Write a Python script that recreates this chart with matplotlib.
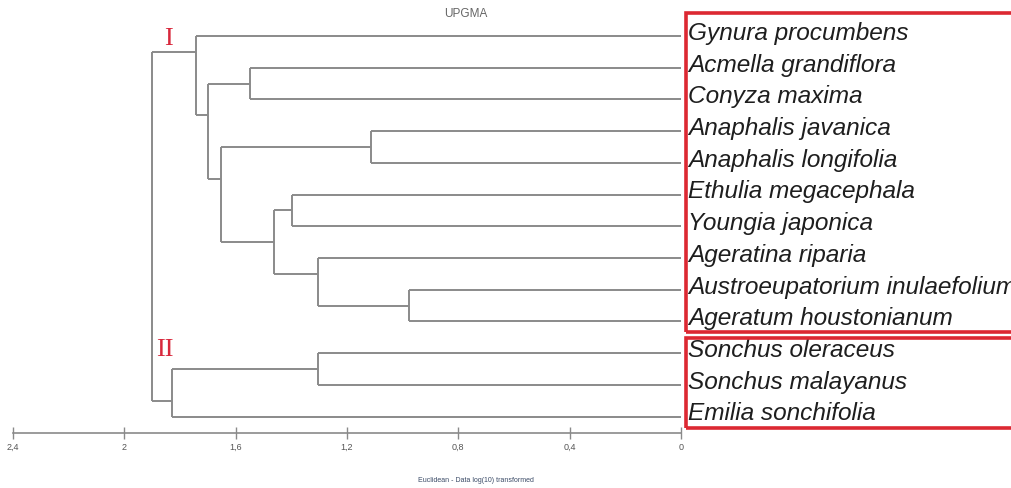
import matplotlib
matplotlib.use("Agg")
import matplotlib.pyplot as plt
from matplotlib.patches import Rectangle

# Leaves in display order, top to bottom
species = [
    "Gynura procumbens", "Acmella grandiflora", "Conyza maxima",
    "Anaphalis javanica", "Anaphalis longifolia", "Ethulia megacephala",
    "Youngia japonica", "Ageratina riparia", "Austroeupatorium inulaefolium",
    "Ageratum houstonianum", "Sonchus oleraceus", "Sonchus malayanus",
    "Emilia sonchifolia",
]

# UPGMA merges: node 13 + k joins merge_a[k] and merge_b[k] at merge_h[k]
merge_a = [8, 3, 7, 10, 5, 17, 1, 14, 19, 0, 16, 22]
merge_b = [9, 4, 13, 11, 6, 15, 2, 18, 20, 21, 12, 23]
merge_h = [0.977, 1.115, 1.303, 1.303, 1.397, 1.462, 1.549, 1.654, 1.698, 1.743, 1.829, 1.900]

tick_vals = [2.4, 2.0, 1.6, 1.2, 0.8, 0.4, 0.0]
tick_labels = ["2,4", "2", "1,6", "1,2", "0,8", "0,4", "0"]

groups = ["I", "II"]
group_first_leaf = [0, 10]

W, H = 1012, 488
fig = plt.figure(figsize=(W / 100, H / 100), dpi=100)

# pixel layout of the tree area
x0_px, x1_px = 13, 681          # d = 2.4 ... d = 0
leaf0_px, step_px = 36, 31.72    # first leaf line and spacing
axis_px, top_px = 433, 20
ax = fig.add_axes([x0_px / W, 1 - axis_px / H, (x1_px - x0_px) / W, (axis_px - top_px) / H])
ax.set_xlim(2.4, 0)
ax.set_ylim((axis_px - leaf0_px) / step_px, (top_px - leaf0_px) / step_px)

line_kw = dict(color="#8a8a8a", lw=1.4, solid_capstyle="butt")

leaves = {i: [i] for i in range(len(species))}
ypos = {i: float(i) for i in range(len(species))}
height = {i: 0.0 for i in range(len(species))}
for k, (a, b, h) in enumerate(zip(merge_a, merge_b, merge_h)):
    n = len(species) + k
    ax.plot([h, h], [ypos[a], ypos[b]], **line_kw)
    ax.plot([height[a], h], [ypos[a], ypos[a]], **line_kw)
    ax.plot([height[b], h], [ypos[b], ypos[b]], **line_kw)
    leaves[n] = leaves[a] + leaves[b]
    ypos[n] = (leaves[a][-1] + leaves[b][0]) / 2
    height[n] = h

for i, name in enumerate(species):
    ax.text(-0.025, i + 0.12, name, fontsize=17.6, style="italic",
            family="Liberation Sans", color="#1e1e1e", va="baseline",
            ha="left", clip_on=False)

# roman numerals: (x in distance units, y offset in leaf units)
numeral_pos = [(1.843, 0.11), (1.854, -0.1)]
for g, first, (xg, dy) in zip(groups, group_first_leaf, numeral_pos):
    ax.text(xg, first + dy, g, fontsize=19, family="Liberation Serif",
            color="#d8283c", ha="center", va="center")

for s in ["top", "right", "left"]:
    ax.spines[s].set_visible(False)
ax.spines["bottom"].set_color("#8a8a8a")
ax.spines["bottom"].set_linewidth(1.2)
ax.set_yticks([])
ax.set_xticks(tick_vals)
ax.set_xticklabels(tick_labels, fontsize=6.5, color="#555555", family="Liberation Sans")
ax.tick_params(axis="x", direction="inout", length=8, width=1, color="#8a8a8a", pad=3)

fig.text(466 / W, 1 - 14 / H, "UPGMA", fontsize=8.5, color="#666666",
         family="Liberation Sans", ha="center", va="center")
fig.text(476 / W, 1 - 480 / H, "Euclidean - Data log(10) transformed", fontsize=5,
         color="#3a4a66", family="Liberation Sans", ha="center", va="center")

# red group boxes
red = "#dc2832"
boxes = [(686, 13, 340, 319), (686, 338, 340, 90)]
for bx, by, bw, bh in boxes:
    fig.patches.append(Rectangle((bx / W, 1 - (by + bh) / H), bw / W, bh / H,
                                 transform=fig.transFigure, fill=False,
                                 edgecolor=red, lw=2.6, figure=fig))

fig.savefig("out.png", dpi=100, facecolor="white")
